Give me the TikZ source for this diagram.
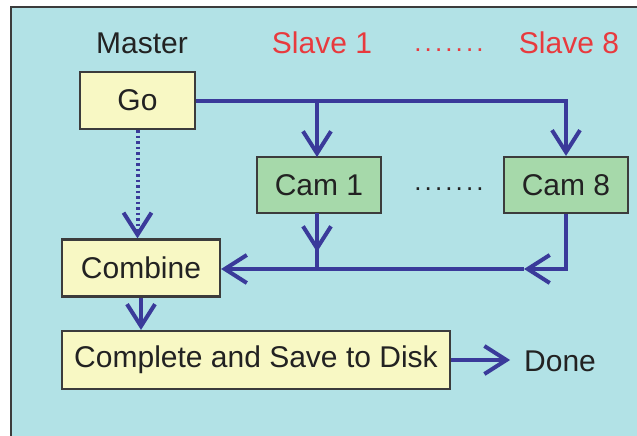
\documentclass[tikz,border=0pt]{standalone}
\usepackage{fontspec}
\setmainfont{Liberation Sans}
\usetikzlibrary{arrows.meta}
\definecolor{bgcyan}{RGB}{178,226,230}
\definecolor{boxyellow}{RGB}{248,248,196}
\definecolor{boxgreen}{RGB}{166,217,170}
\definecolor{arrowblue}{RGB}{58,58,154}
\definecolor{slavered}{RGB}{232,58,62}
\definecolor{textgray}{RGB}{34,34,34}
\definecolor{framegray}{RGB}{60,60,60}
\begin{document}
\begin{tikzpicture}[x=1pt,y=-1pt,
  every node/.style={font=\fontsize{30}{36}\selectfont, text=textgray, inner sep=0pt},
  ybox/.style={draw=framegray, line width=2.2pt, fill=boxyellow, minimum height=57pt},
  gbox/.style={draw=framegray, line width=2.2pt, fill=boxgreen, minimum height=56pt, minimum width=124pt},
  conn/.style={draw=arrowblue, line width=4pt},
  arr/.style={conn, -{Straight Barb[length=22pt, width=28pt, line width=4pt]}},
  dotarr/.style={arr, dash pattern=on 2.5pt off 3pt},
  lbl/.style={anchor=base},
  slbl/.style={anchor=base, text=slavered},
  dotlbl/.style={anchor=base, font=\fontsize{26}{30}\selectfont\addfontfeature{LetterSpace=12}}]
\useasboundingbox (0,0) rectangle (637,436);
\fill[white] (0,0) rectangle (637,436);
\draw[fill=bgcyan, draw=framegray, line width=2pt] (11,7) rectangle (645,445);

% headings
\node[lbl] (master) at (142,53) {Master};
\node[slbl] (slave1) at (322,53) {Slave 1};
\node[dotlbl, text=slavered] (sdots) at (449,52) {.......};
\node[slbl] (slave8) at (569,53) {Slave 8};

% boxes
\node[ybox, minimum width=115pt] (go) at (137.5,100.5) {Go};
\node[gbox] (cam1) at (319,185) {Cam 1};
\node[dotlbl] (cdots) at (449,190) {.......};
\node[gbox] (cam8) at (566,185) {Cam 8};
\node[ybox, minimum width=158pt] (combine) at (141,268) {Combine};
\node[ybox, minimum width=388pt, minimum height=58pt] (complete) at (256,360) {Complete and Save to Disk};
\node[anchor=base west] (done) at (524,371) {Done};

% coordinates
\coordinate (b1) at (317,100.5);
\coordinate (b8) at (566,100.5);
\coordinate (c1top) at (317,157);
\coordinate (c1bot) at (317,213);
\coordinate (c1tip) at (317,252);
\coordinate (j1) at (317,269);
\coordinate (j8) at (566,269);
\coordinate (j8tip) at (524,269);

% Go to cameras
\draw[conn] (go.east) -- (b1);
\draw[arr] (b1) -- (b8) -- (cam8.north);
\draw[arr] (b1) -- (c1top);

% Go to Combine (dotted)
\draw[dotarr] (go.south) -- (go.south |- combine.north);

% cameras to Combine
\draw[conn] (c1bot) -- (j1);
\draw[arr] (c1bot) -- (c1tip);
\draw[arr] (cam8.south) -- (j8) -- (j8tip);
\draw[arr] (j8tip) -- (j8 -| combine.east);

% Combine to Complete, Complete to Done
\draw[arr] (combine.south) -- (combine.south |- complete.north);
\draw[arr] (complete.east) -- ++(59,0) coordinate (donetip);
\end{tikzpicture}
\end{document}
